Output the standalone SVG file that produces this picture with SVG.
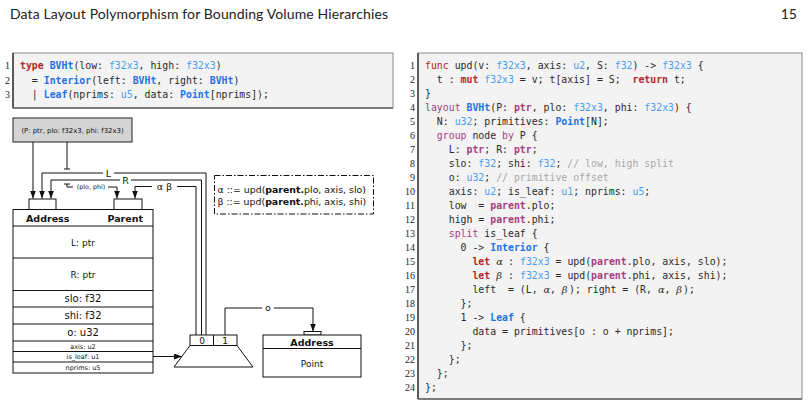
<svg xmlns="http://www.w3.org/2000/svg" width="809" height="408" viewBox="0 0 809 408" xml:space="preserve">
<style>
.hdr{font-family:Lato,"Open Sans",sans-serif;font-size:14px;fill:#222}
.code{font-family:"DejaVu Sans Mono",monospace;font-size:9.85px;fill:#2a2a2a;white-space:pre}
.ln{font-family:"Liberation Serif",serif;font-size:10px;fill:#222;text-anchor:end}
.kr{fill:#b3262b}
.krb{fill:#b3262b;font-weight:bold}
.kp{fill:#a3407f}
.kpb{fill:#a3407f;font-weight:bold}
.ty{fill:#4a9eef}
.nm{fill:#2272e8;font-weight:bold}
.cm{fill:#a8a8a8}
.gk{font-family:"DejaVu Serif",serif;font-style:italic}
.box{fill:#f3f3f3;stroke:#8a8a8a;stroke-width:1}
.d{font-family:"DejaVu Sans",sans-serif;fill:#111}
.ln1{fill:none;stroke:#111;stroke-width:1}
.cell{fill:#fff;stroke:#111;stroke-width:1}
</style>
<defs>
<marker id="ah" viewBox="0 0 8 6" refX="8" refY="3" markerWidth="8" markerHeight="6" markerUnits="userSpaceOnUse" orient="auto"><path d="M0,0 L8,3 L0,6 z" fill="#111"/></marker>
</defs>
<rect width="809" height="408" fill="#fff"/>
<text class="hdr" x="10" y="19" textLength="378" lengthAdjust="spacing">Data Layout Polymorphism for Bounding Volume Hierarchies</text>
<text class="hdr" x="797" y="19" text-anchor="end">15</text>

<g id="code-type">
<rect class="box" x="13" y="53" width="380" height="55"/>
<line x1="13" y1="53" x2="13" y2="108" stroke="#222" stroke-width="1.3"/>
<line x1="13" y1="108" x2="393" y2="108" stroke="#666" stroke-width="1.6"/>
<text class="ln" x="10" y="69">1</text>
<text class="ln" x="10" y="83.5">2</text>
<text class="ln" x="10" y="98">3</text>
<text class="code" x="20" y="69"><tspan class="krb">type</tspan> <tspan class="nm">BVHt</tspan>(low: <tspan class="ty">f32x3</tspan>, high: <tspan class="ty">f32x3</tspan>)</text>
<text class="code" x="20" y="83.5">  = <tspan class="nm">Interior</tspan>(left: <tspan class="nm">BVHt</tspan>, right: <tspan class="nm">BVHt</tspan>)</text>
<text class="code" x="20" y="98">  | <tspan class="nm">Leaf</tspan>(nprims: <tspan class="ty">u5</tspan>, data: <tspan class="nm">Point</tspan>[nprims]);</text>
</g>

<g id="code-layout">
<rect class="box" x="418" y="53" width="384" height="346"/>
<line x1="418" y1="53" x2="418" y2="399" stroke="#222" stroke-width="1.3"/>
<line x1="418" y1="399" x2="802" y2="399" stroke="#666" stroke-width="1.6"/>
<text class="ln" x="415" y="69">1</text>
<text class="ln" x="415" y="83">2</text>
<text class="ln" x="415" y="97">3</text>
<text class="ln" x="415" y="111">4</text>
<text class="ln" x="415" y="125">5</text>
<text class="ln" x="415" y="139">6</text>
<text class="ln" x="415" y="153">7</text>
<text class="ln" x="415" y="167">8</text>
<text class="ln" x="415" y="181">9</text>
<text class="ln" x="415" y="195">10</text>
<text class="ln" x="415" y="209">11</text>
<text class="ln" x="415" y="223">12</text>
<text class="ln" x="415" y="237">13</text>
<text class="ln" x="415" y="251">14</text>
<text class="ln" x="415" y="265">15</text>
<text class="ln" x="415" y="279">16</text>
<text class="ln" x="415" y="293">17</text>
<text class="ln" x="415" y="307">18</text>
<text class="ln" x="415" y="321">19</text>
<text class="ln" x="415" y="335">20</text>
<text class="ln" x="415" y="349">21</text>
<text class="ln" x="415" y="363">22</text>
<text class="ln" x="415" y="377">23</text>
<text class="ln" x="415" y="391">24</text>
<text class="code" x="425" y="69"><tspan class="kr">func</tspan> upd(v: <tspan class="ty">f32x3</tspan>, axis: <tspan class="ty">u2</tspan>, S: <tspan class="ty">f32</tspan>) -&gt; <tspan class="ty">f32x3</tspan> {</text>
<text class="code" x="425" y="83">  t : <tspan class="krb">mut</tspan> <tspan class="ty">f32x3</tspan> = v; t[axis] = S;  <tspan class="krb">return</tspan> t;</text>
<text class="code" x="425" y="97">}</text>
<text class="code" x="425" y="111"><tspan class="kp">layout</tspan> <tspan class="nm">BVHt</tspan>(P: <tspan class="kpb">ptr</tspan>, plo: <tspan class="ty">f32x3</tspan>, phi: <tspan class="ty">f32x3</tspan>) {</text>
<text class="code" x="425" y="125">  N: <tspan class="ty">u32</tspan>; primitives: <tspan class="nm">Point</tspan>[N];</text>
<text class="code" x="425" y="139">  <tspan class="kp">group</tspan> node <tspan class="kp">by</tspan> P {</text>
<text class="code" x="425" y="153">    L: <tspan class="kpb">ptr</tspan>; R: <tspan class="kpb">ptr</tspan>;</text>
<text class="code" x="425" y="167">    slo: <tspan class="ty">f32</tspan>; shi: <tspan class="ty">f32</tspan>; <tspan class="cm">// low, high split</tspan></text>
<text class="code" x="425" y="181">    o: <tspan class="ty">u32</tspan>; <tspan class="cm">// primitive offset</tspan></text>
<text class="code" x="425" y="195">    axis: <tspan class="ty">u2</tspan>; is_leaf: <tspan class="ty">u1</tspan>; nprims: <tspan class="ty">u5</tspan>;</text>
<text class="code" x="425" y="209">    low  = <tspan class="kpb">parent</tspan>.plo;</text>
<text class="code" x="425" y="223">    high = <tspan class="kpb">parent</tspan>.phi;</text>
<text class="code" x="425" y="237">    <tspan class="kp">split</tspan> is_leaf {</text>
<text class="code" x="425" y="251">      0 -&gt; <tspan class="nm">Interior</tspan> {</text>
<text class="code" x="425" y="265">        <tspan class="krb">let</tspan> <tspan class="gk">α</tspan><tspan x="502.2"> : </tspan><tspan class="ty">f32x3</tspan> = upd(<tspan class="kpb">parent</tspan>.plo, axis, slo);</text>
<text class="code" x="425" y="279">        <tspan class="krb">let</tspan> <tspan class="gk">β</tspan><tspan x="502.2"> : </tspan><tspan class="ty">f32x3</tspan> = upd(<tspan class="kpb">parent</tspan>.phi, axis, shi);</text>
<text class="code" x="425" y="293">        left  = (L, <tspan class="gk">α</tspan><tspan x="550">, </tspan><tspan class="gk">β</tspan><tspan x="569">); right = (R, </tspan><tspan class="gk">α</tspan><tspan x="664.5">, </tspan><tspan class="gk">β</tspan><tspan x="683">);</tspan></text>
<text class="code" x="425" y="307">      };</text>
<text class="code" x="425" y="321">      1 -&gt; <tspan class="nm">Leaf</tspan> {</text>
<text class="code" x="425" y="335">        data = primitives[o : o + nprims];</text>
<text class="code" x="425" y="349">      };</text>
<text class="code" x="425" y="363">    };</text>
<text class="code" x="425" y="377">  };</text>
<text class="code" x="425" y="391">};</text>
</g>

<g id="connectors">
<path class="ln1" d="M33,142 V198.5" marker-end="url(#ah)"/>
<path class="ln1" d="M67,142 V169 M64,169 H70"/>
<path class="ln1" d="M64,184 H70 M67,184 V187 H117 V198.5" marker-end="url(#ah)"/>
<path class="ln1" d="M206,335 V173 H42 V198.5" marker-end="url(#ah)"/>
<path class="ln1" d="M201.5,335 V180 H51 V198.5" marker-end="url(#ah)"/>
<path class="ln1" d="M196,335 V186.5 H135 V198.5" marker-end="url(#ah)"/>
<path class="ln1" d="M225,335 V308 H313 V331.5" marker-end="url(#ah)"/>
<path class="ln1" d="M153,356.5 H182" marker-end="url(#ah)"/>
<rect x="103" y="168" width="11" height="9" fill="#fff"/>
<text class="d" x="108.5" y="176.5" font-size="9.5" text-anchor="middle">L</text>
<rect x="120" y="175" width="11" height="9" fill="#fff"/>
<text class="d" x="125.5" y="183.5" font-size="9.5" text-anchor="middle">R</text>
<rect x="73" y="182" width="35" height="9" fill="#fff"/>
<text class="d" x="91" y="189" font-size="6.3" text-anchor="middle">(plo, phi)</text>
<rect x="152" y="181" width="25" height="10" fill="#fff"/>
<text class="d" x="164.5" y="189.5" font-size="9.5" text-anchor="middle">α β</text>
<rect x="262" y="303" width="12" height="9" fill="#fff"/>
<text class="d" x="268" y="311" font-size="9.5" text-anchor="middle">o</text>
</g>

<g id="params">
<rect x="13" y="118" width="119" height="24" fill="#d4d4d4" stroke="#222" stroke-width="1"/>
<text class="d" x="72.5" y="132.5" font-size="6.9" text-anchor="middle">(P: ptr, plo: f32x3, phi: f32x3)</text>
</g>

<g id="node-table">
<rect class="cell" x="29" y="199" width="27" height="10.5"/>
<rect class="cell" x="114" y="199" width="28" height="10.5"/>
<rect class="cell" x="13" y="209.5" width="140" height="163.5"/>
<path class="ln1" d="M13,226 H153 M13,258 H153 M13,290.5 H153 M13,307 H153 M13,324 H153 M13,341 H153 M13,351.5 H153 M13,362 H153"/>
<text class="d" x="26" y="222" font-size="9.5" font-weight="bold">Address</text>
<text class="d" x="143" y="222" font-size="9.5" font-weight="bold" text-anchor="end">Parent</text>
<text class="d" x="83" y="245.5" font-size="9" text-anchor="middle">L: ptr</text>
<text class="d" x="83" y="277.5" font-size="9" text-anchor="middle">R: ptr</text>
<text class="d" x="83" y="302.3" font-size="10" text-anchor="middle">slo: f32</text>
<text class="d" x="83" y="319.3" font-size="10" text-anchor="middle">shi: f32</text>
<text class="d" x="83" y="336.3" font-size="10" text-anchor="middle">o: u32</text>
<text class="d" x="83" y="349" font-size="6.5" text-anchor="middle">axis: u2</text>
<text class="d" x="83" y="359.3" font-size="6.5" text-anchor="middle">is_leaf: u1</text>
<text class="d" x="83" y="370" font-size="6.5" text-anchor="middle">nprims: u5</text>
</g>

<g id="note">
<rect x="214.5" y="175.5" width="159" height="38.5" fill="none" stroke="#111" stroke-width="1" stroke-dasharray="6,2,1.5,2"/>
<text class="d" x="217.5" y="193.3" font-size="9.4">α ::= upd(<tspan font-weight="bold">parent.</tspan>plo, axis, slo)</text>
<text class="d" x="217.5" y="205" font-size="9.4">β ::= upd(<tspan font-weight="bold">parent.</tspan>phi, axis, shi)</text>
</g>

<g id="node-mux">
<rect class="cell" x="190" y="335" width="47" height="10.5"/>
<line class="ln1" x1="213.5" y1="335" x2="213.5" y2="345.5"/>
<text class="d" x="202" y="344" font-size="9" text-anchor="middle">0</text>
<text class="d" x="225" y="344" font-size="9" text-anchor="middle">1</text>
<path d="M190,345.5 H237 L253,367 H174 Z" fill="#fff" stroke="#111" stroke-width="1"/>
</g>

<g id="node-point">
<rect class="cell" x="304" y="331.5" width="17" height="3.5"/>
<rect class="cell" x="263" y="335" width="98" height="42"/>
<line class="ln1" x1="263" y1="348.5" x2="361" y2="348.5"/>
<text class="d" x="312" y="345.5" font-size="9.5" font-weight="bold" text-anchor="middle">Address</text>
<text class="d" x="312" y="367" font-size="9" text-anchor="middle">Point</text>
</g>
</svg>
